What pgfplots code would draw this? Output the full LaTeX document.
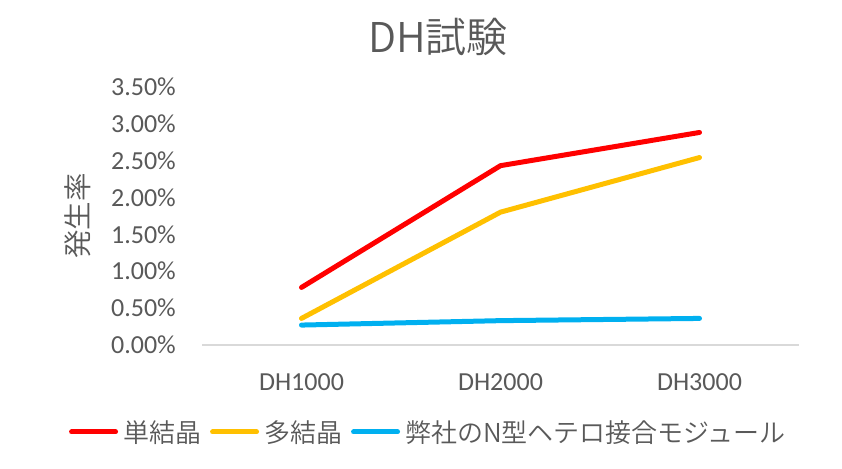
\documentclass[border=0pt]{standalone}
\usepackage{fontspec}
\setmainfont{Carlito}
\newfontfamily\jp{Noto Sans CJK JP DemiLight}
\usepackage{pgfplots}
\pgfplotsset{compat=1.18}
\definecolor{txt}{HTML}{595959}
\definecolor{gridgray}{HTML}{D9D9D9}
\definecolor{cred}{HTML}{FF0000}
\definecolor{cyel}{HTML}{FFC000}
\definecolor{cblue}{HTML}{00B0F0}
\begin{document}
\begin{tikzpicture}
\path[use as bounding box] (0,0) rectangle (842pt,468pt);
\begin{axis}[
  at={(202pt,123pt)}, anchor=south west,
  scale only axis, width=597pt, height=258.3pt,
  xmin=-0.5, xmax=2.5, ymin=0, ymax=3.5,
  clip=false,
  axis x line*=bottom, axis y line*=left,
  y axis line style={draw=none},
  x axis line style={draw=gridgray, line width=1.5pt, -},
  major tick length=0pt, tick style={draw=none},
  xtick={0,1,2}, xticklabels={DH1000,DH2000,DH3000},
  ytick={0,0.5,1,1.5,2,2.5,3,3.5},
  /pgf/number format/assume math mode=true,
  yticklabel={\pgfmathprintnumber[fixed,fixed zerofill,precision=2]{\tick}\%},
  ticklabel style={font=\fontsize{26}{31}\selectfont, text=txt, inner sep=0pt},
  yticklabel style={xshift=-26pt},
  xticklabel style={yshift=-28.5pt},
  title={DH試験},
  title style={at={(axis description cs:0.3953,1.168)}, anchor=center, font=\jp\fontsize{41}{49}\selectfont, text=txt},
  ylabel={発生率},
  ylabel style={at={(axis description cs:-0.2077,0.5)}, anchor=center, font=\jp\fontsize{28.5}{34}\selectfont, text=txt},
  legend columns=3,
  legend style={at={(axis description cs:0.3777,-0.3368)}, anchor=center, draw=none, fill=none,
    font=\jp\fontsize{26}{31}\selectfont, text=txt,
    nodes={inner sep=0pt},
    /tikz/every odd column/.append style={column sep=5pt},
    /tikz/every even column/.append style={column sep=9pt}},
  legend image code/.code={\draw[#1, line cap=round] (0pt,0pt) -- (44pt,0pt);},
  every axis plot/.append style={line width=5pt, line cap=round, line join=round, mark=none},
]
\addplot[cred] coordinates {(0,0.78) (1,2.43) (2,2.88)};
\addlegendentry{単結晶}
\addplot[cyel] coordinates {(0,0.36) (1,1.80) (2,2.54)};
\addlegendentry{多結晶}
\addplot[cblue] coordinates {(0,0.27) (1,0.33) (2,0.36)};
\addlegendentry{弊社のN型ヘテロ接合モジュール}
\end{axis}
\end{tikzpicture}
\end{document}
